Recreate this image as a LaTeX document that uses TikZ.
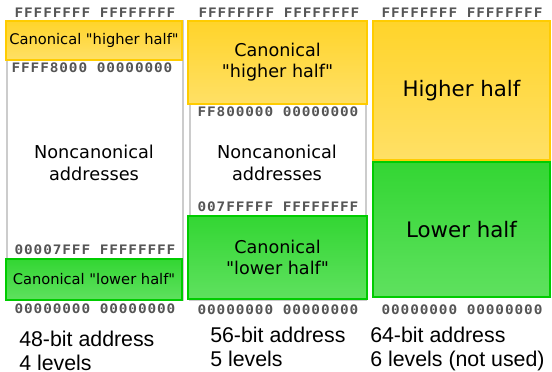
\documentclass[tikz,border=0pt]{standalone}
\usepackage{fontspec}
\setmainfont{DejaVu Sans}
\newfontfamily\hexfont[FakeStretch=1.1,LetterSpace=7]{DejaVu Sans Mono Bold}
\newfontfamily\capfont{Liberation Sans}
\usetikzlibrary{positioning}

\definecolor{hiedge}{HTML}{FFCC00}
\definecolor{hitop}{HTML}{FFD42A}
\definecolor{hibot}{HTML}{FFE066}
\definecolor{loedge}{HTML}{00CC00}
\definecolor{lotop}{HTML}{33D633}
\definecolor{lobot}{HTML}{5FE15F}
\definecolor{framegray}{HTML}{CCCCCC}
\definecolor{hexgray}{HTML}{555555}

\begin{document}
\begin{tikzpicture}[x=0.75pt,y=-0.75pt,
  frame/.style={rectangle,draw=framegray,line width=1.5pt,inner sep=0pt},
  hibox/.style={rectangle,draw=hiedge,line width=1.5pt,top color=hitop,bottom color=hibot,inner sep=0pt,align=center},
  lobox/.style={rectangle,draw=loedge,line width=1.5pt,top color=lotop,bottom color=lobot,inner sep=0pt,align=center},
  hex/.style={font=\hexfont\fontsize{9.8}{11}\selectfont,text=hexgray,inner sep=0pt},
  noncanon/.style={font=\fontsize{13.3}{16.5}\selectfont,align=center,inner sep=0pt},
  caption/.style={font=\capfont\fontsize{16}{17.5}\selectfont,align=left,anchor=base west,inner sep=0pt}]
\useasboundingbox (0,0) rectangle (552,371);

% 48-bit
\node[frame,minimum width=132pt,minimum height=209.25pt] (frameA) at (95,160.5) {};
\node[hibox,minimum width=132pt,minimum height=29.25pt,font=\fontsize{11}{13}\selectfont] (hiA) at (94,40.5) {Canonical \textquotedbl higher half\textquotedbl};
\node[lobox,minimum width=132pt,minimum height=30.75pt,font=\fontsize{11}{13}\selectfont] (loA) at (94,279.5) {Canonical \textquotedbl lower half\textquotedbl};
\node[noncanon] (ncA) at (94,163) {Noncanonical\\addresses};
\node[hex] (topA) at (95,13) {FFFFFFFF FFFFFFFF};
\node[hex] (upA) at (92,68) {FFFF8000 00000000};
\node[hex] (downA) at (95,250) {00007FFF FFFFFFFF};
\node[hex] (botA) at (95,309) {00000000 00000000};
\node[caption] (capA) at (19,370) {48-bit address\\4 levels};

% 56-bit
\node[frame,minimum width=132pt,minimum height=209.25pt] (frameB) at (278,160) {};
\node[hibox,minimum width=134.25pt,minimum height=62.25pt,font=\fontsize{13.2}{15.75}\selectfont] (hiB) at (277.5,62.5) {Canonical\\\textquotedbl higher half\textquotedbl};
\node[lobox,minimum width=134.25pt,minimum height=62.25pt,font=\fontsize{13.2}{15.75}\selectfont] (loB) at (277.5,257.5) {Canonical\\\textquotedbl lower half\textquotedbl};
\node[noncanon] (ncB) at (277,163) {Noncanonical\\addresses};
\node[hex] (topB) at (279,13) {FFFFFFFF FFFFFFFF};
\node[hex] (upB) at (278,112) {FF800000 00000000};
\node[hex] (downB) at (278,207) {007FFFFF FFFFFFFF};
\node[hex] (botB) at (278,310) {00000000 00000000};
\node[caption] (capB) at (210,366) {56-bit address\\5 levels};

% 64-bit
\node[hibox,minimum width=132.75pt,minimum height=104.25pt,font=\fontsize{16}{19}\selectfont] (hiC) at (461.5,90.5) {Higher half};
\node[lobox,minimum width=132.75pt,minimum height=101.25pt,font=\fontsize{16}{19}\selectfont] (loC) at (461.5,229.5) {Lower half};
\node[hex] (topC) at (462,13) {FFFFFFFF FFFFFFFF};
\node[hex] (botC) at (462,310) {00000000 00000000};
\node[caption] (capC) at (370,366) {64-bit address\\6 levels (not used)};
\end{tikzpicture}
\end{document}
